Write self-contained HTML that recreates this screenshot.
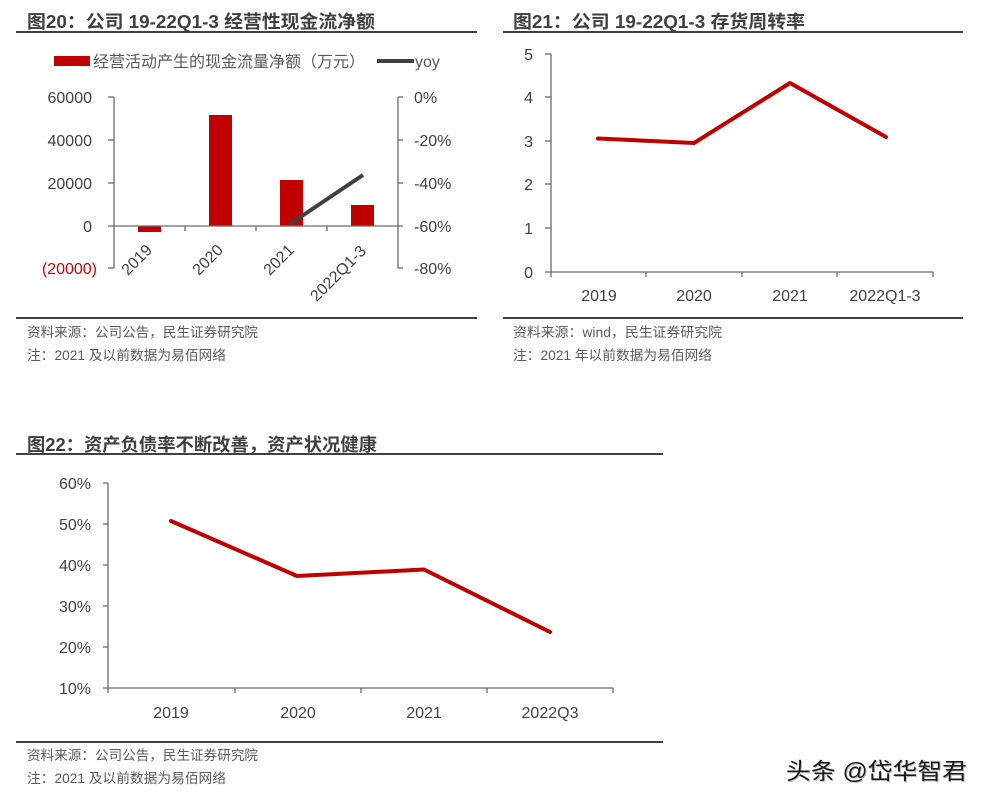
<!DOCTYPE html>
<html><head><meta charset="utf-8"><style>
html,body{margin:0;padding:0;background:#fff;}
svg{display:block;}
text{font-family:"Liberation Sans","Noto Sans CJK SC",sans-serif;}
</style></head><body>
<svg width="988" height="803" viewBox="0 0 988 803" xmlns="http://www.w3.org/2000/svg">
<rect width="988" height="803" fill="#fff"/>

<!-- ===== Chart 1 ===== -->
<text x="27" y="28" font-size="18" font-weight="bold" fill="#404040" textLength="348" lengthAdjust="spacingAndGlyphs">图20：公司 19-22Q1-3 经营性现金流净额</text>
<line x1="16" y1="32" x2="477" y2="32" stroke="#404040" stroke-width="2"/>
<!-- legend -->
<rect x="54" y="56" width="36" height="10" fill="#c00000"/>
<text x="93" y="67" font-size="16" fill="#595959" textLength="272" lengthAdjust="spacingAndGlyphs">经营活动产生的现金流量净额（万元）</text>
<line x1="377" y1="61" x2="414" y2="61" stroke="#404040" stroke-width="4"/>
<text x="415" y="67" font-size="16" fill="#595959">yoy</text>
<!-- bars -->
<rect x="138" y="226" width="23" height="6" fill="#c00000"/>
<rect x="209" y="115" width="23" height="111" fill="#c00000"/>
<rect x="280" y="180" width="23" height="46" fill="#c00000"/>
<rect x="351" y="205" width="23" height="21" fill="#c00000"/>
<!-- axes -->
<g stroke="#6a6a6a" stroke-width="1.3" fill="none">
<line x1="114" y1="97" x2="114" y2="268"/>
<line x1="108" y1="97" x2="114" y2="97"/>
<line x1="108" y1="140" x2="114" y2="140"/>
<line x1="108" y1="183" x2="114" y2="183"/>
<line x1="108" y1="268" x2="114" y2="268"/>
<line x1="398" y1="97" x2="398" y2="268"/>
<line x1="398" y1="97" x2="403" y2="97"/>
<line x1="398" y1="140" x2="403" y2="140"/>
<line x1="398" y1="183" x2="403" y2="183"/>
<line x1="398" y1="268" x2="403" y2="268"/>
<line x1="108" y1="226" x2="403" y2="226"/>
<line x1="185" y1="226" x2="185" y2="231"/>
<line x1="256" y1="226" x2="256" y2="231"/>
<line x1="327" y1="226" x2="327" y2="231"/>
</g>
<!-- yoy line -->
<line x1="290" y1="224" x2="363" y2="175" stroke="#404040" stroke-width="4"/>
<!-- left labels -->
<g font-size="16" fill="#404040" text-anchor="end">
<text x="92" y="103">60000</text>
<text x="92" y="146">40000</text>
<text x="92" y="189">20000</text>
<text x="92" y="232">0</text>
<text x="97" y="274" fill="#d00000">(20000)</text>
</g>
<g font-size="16" fill="#404040">
<text x="414" y="103">0%</text>
<text x="414" y="146">-20%</text>
<text x="414" y="189">-40%</text>
<text x="414" y="232">-60%</text>
<text x="414" y="274">-80%</text>
</g>
<!-- rotated x labels -->
<g font-size="16" fill="#404040" text-anchor="end">
<text transform="translate(153,251) rotate(-45)">2019</text>
<text transform="translate(224,251) rotate(-45)">2020</text>
<text transform="translate(295,251) rotate(-45)">2021</text>
<text transform="translate(367,252) rotate(-45)">2022Q1-3</text>
</g>
<line x1="16" y1="318" x2="477" y2="318" stroke="#404040" stroke-width="2"/>
<text x="27" y="337" font-size="13.5" fill="#595959" textLength="231" lengthAdjust="spacingAndGlyphs">资料来源：公司公告，民生证券研究院</text>
<text x="27" y="360" font-size="13.5" fill="#595959" textLength="199" lengthAdjust="spacingAndGlyphs">注：2021 及以前数据为易佰网络</text>

<!-- ===== Chart 2 ===== -->
<text x="513" y="28" font-size="18" font-weight="bold" fill="#404040" textLength="292" lengthAdjust="spacingAndGlyphs">图21：公司 19-22Q1-3 存货周转率</text>
<line x1="503" y1="32" x2="963" y2="32" stroke="#404040" stroke-width="2"/>
<g stroke="#6a6a6a" stroke-width="1.3" fill="none">
<line x1="551" y1="54" x2="551" y2="272"/>
<line x1="545" y1="54" x2="551" y2="54"/>
<line x1="545" y1="97" x2="551" y2="97"/>
<line x1="545" y1="141" x2="551" y2="141"/>
<line x1="545" y1="184" x2="551" y2="184"/>
<line x1="545" y1="228" x2="551" y2="228"/>
<line x1="545" y1="272" x2="933" y2="272"/>
<line x1="551" y1="272" x2="551" y2="277"/>
<line x1="646" y1="272" x2="646" y2="277"/>
<line x1="742" y1="272" x2="742" y2="277"/>
<line x1="837" y1="272" x2="837" y2="277"/>
<line x1="933" y1="272" x2="933" y2="277"/>
</g>
<g font-size="16" fill="#404040" text-anchor="end">
<text x="533" y="60">5</text>
<text x="533" y="103">4</text>
<text x="533" y="147">3</text>
<text x="533" y="190">2</text>
<text x="533" y="234">1</text>
<text x="533" y="278">0</text>
</g>
<polyline points="598,138.5 694,143 790,83 886,137" fill="none" stroke="#c00000" stroke-width="4" stroke-linejoin="round" stroke-linecap="round"/>
<g font-size="16" fill="#404040" text-anchor="middle">
<text x="599" y="301">2019</text>
<text x="694" y="301">2020</text>
<text x="790" y="301">2021</text>
<text x="885" y="301">2022Q1-3</text>
</g>
<line x1="503" y1="318" x2="963" y2="318" stroke="#404040" stroke-width="2"/>
<text x="513" y="337" font-size="13.5" fill="#595959" textLength="209" lengthAdjust="spacingAndGlyphs">资料来源：wind，民生证券研究院</text>
<text x="513" y="360" font-size="13.5" fill="#595959" textLength="199" lengthAdjust="spacingAndGlyphs">注：2021 年以前数据为易佰网络</text>

<!-- ===== Chart 3 ===== -->
<text x="27" y="451" font-size="18" font-weight="bold" fill="#404040" textLength="350" lengthAdjust="spacingAndGlyphs">图22：资产负债率不断改善，资产状况健康</text>
<line x1="16" y1="454" x2="663" y2="454" stroke="#404040" stroke-width="2"/>
<g stroke="#6a6a6a" stroke-width="1.3" fill="none">
<line x1="108" y1="483" x2="108" y2="688"/>
<line x1="103" y1="483" x2="108" y2="483"/>
<line x1="103" y1="524" x2="108" y2="524"/>
<line x1="103" y1="565" x2="108" y2="565"/>
<line x1="103" y1="606" x2="108" y2="606"/>
<line x1="103" y1="647" x2="108" y2="647"/>
<line x1="103" y1="688" x2="613" y2="688"/>
<line x1="108" y1="688" x2="108" y2="693"/>
<line x1="235" y1="688" x2="235" y2="693"/>
<line x1="361" y1="688" x2="361" y2="693"/>
<line x1="487" y1="688" x2="487" y2="693"/>
<line x1="613" y1="688" x2="613" y2="693"/>
</g>
<g font-size="16" fill="#404040" text-anchor="end">
<text x="91" y="489">60%</text>
<text x="91" y="530">50%</text>
<text x="91" y="571">40%</text>
<text x="91" y="612">30%</text>
<text x="91" y="653">20%</text>
<text x="91" y="694">10%</text>
</g>
<polyline points="171,521 297,576 424,569.5 550,632" fill="none" stroke="#c00000" stroke-width="4" stroke-linejoin="round" stroke-linecap="round"/>
<g font-size="16" fill="#404040" text-anchor="middle">
<text x="171" y="718">2019</text>
<text x="298" y="718">2020</text>
<text x="424" y="718">2021</text>
<text x="550" y="718">2022Q3</text>
</g>
<line x1="16" y1="742" x2="663" y2="742" stroke="#404040" stroke-width="2"/>
<text x="27" y="760" font-size="13.5" fill="#595959" textLength="231" lengthAdjust="spacingAndGlyphs">资料来源：公司公告，民生证券研究院</text>
<text x="27" y="783" font-size="13.5" fill="#595959" textLength="199" lengthAdjust="spacingAndGlyphs">注：2021 及以前数据为易佰网络</text>

<!-- watermark -->
<text x="786" y="779" font-size="23" fill="#bbb" textLength="181" lengthAdjust="spacingAndGlyphs" transform="translate(1,1)">头条 @岱华智君</text>
<text x="786" y="779" font-size="23" fill="#1a1a1a" textLength="181" lengthAdjust="spacingAndGlyphs">头条 @岱华智君</text>
</svg>
</body></html>
